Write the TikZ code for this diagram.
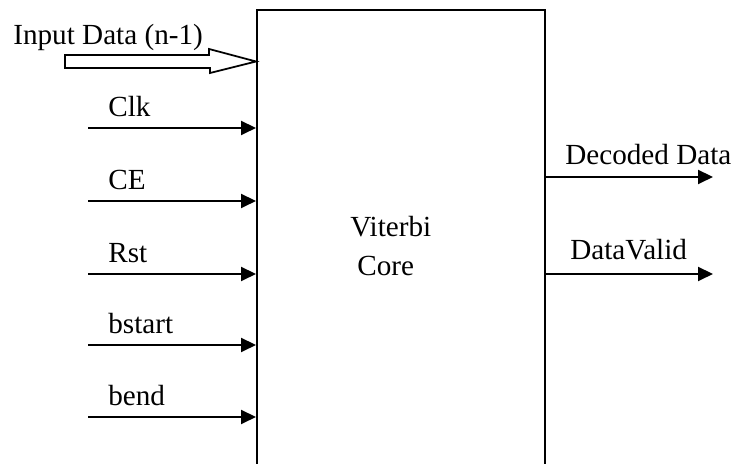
\documentclass[tikz,border=0pt]{standalone}
\usepackage{fontspec}
\setmainfont{Liberation Serif}
\usetikzlibrary{arrows.meta}

\begin{document}
\begin{tikzpicture}[font=\fontsize{16.6}{20}\selectfont,
    sig/.style={line width=0.04cm, -{Triangle[length=0.3cm, width=0.28cm]}},
    lbl/.style={anchor=base west, inner sep=0pt}]
    \useasboundingbox (0,0) rectangle (14.7,9.28);
    \clip (0,0) rectangle (14.7,9.28);
    % decoder block, runs off the bottom edge
    \node[draw, line width=0.04cm, minimum width=5.76cm, minimum height=9.58cm, inner sep=0pt] (core) at (8.02,4.29) {};
    \node[lbl] (viterbi) at (7.00,4.54) {Viterbi};
    \node[lbl] (corename) at (7.14,3.76) {Core};
    % bus input (hollow arrow)
    \node[lbl] (datain) at (0.26,8.38) {Input Data (n-1)};
    \coordinate (busin) at (1.30,8.05);
    \coordinate (bustip) at (busin -| core.west);
    \draw[line width=0.035cm] (bustip) -- ++(-0.94,0.25) -- ++(0,-0.12) -- (busin |- 0,8.18)
        -- (busin |- 0,7.92) -- (4.20,7.92) -- (4.20,7.82) -- cycle;
    % control inputs
    \coordinate (clkin) at (1.76,6.72);
    \coordinate (cein) at (1.76,5.26);
    \coordinate (rstin) at (1.76,3.80);
    \coordinate (bstartin) at (1.76,2.38);
    \coordinate (bendin) at (1.76,0.94);
    \draw[sig] (clkin) -- (clkin -| core.west);
    \draw[sig] (cein) -- (cein -| core.west);
    \draw[sig] (rstin) -- (rstin -| core.west);
    \draw[sig] (bstartin) -- (bstartin -| core.west);
    \draw[sig] (bendin) -- (bendin -| core.west);
    \node[lbl] (clk) at (2.16,6.94) {Clk};
    \node[lbl] (ce) at (2.16,5.48) {CE};
    \node[lbl] (rst) at (2.16,4.02) {Rst};
    \node[lbl] (bstart) at (2.16,2.60) {bstart};
    \node[lbl] (bend) at (2.16,1.16) {bend};
    % outputs
    \coordinate (decout) at (14.26,5.74);
    \coordinate (validout) at (14.26,3.80);
    \draw[sig] (decout -| core.east) -- (decout);
    \draw[sig] (validout -| core.east) -- (validout);
    \node[lbl] (dec) at (11.30,5.98) {Decoded Data};
    \node[lbl] (valid) at (11.40,4.08) {DataValid};
\end{tikzpicture}
\end{document}
